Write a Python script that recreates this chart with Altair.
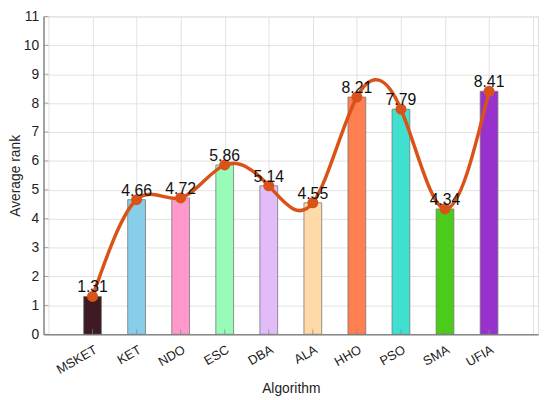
import altair as alt
import pandas as pd

names = ["MSKET", "KET", "NDO", "ESC", "DBA", "ALA", "HHO", "PSO", "SMA", "UFIA"]
values = [1.31, 4.66, 4.72, 5.86, 5.14, 4.55, 8.21, 7.79, 4.34, 8.41]
colors = ["#3e1a22", "#87ceeb", "#ff99cc", "#98fbb9", "#e2bcf8", "#ffdaa8",
          "#ff7f50", "#40e0d0", "#4ccc1a", "#9932cc"]
y_ticks = list(range(0, 12))
x_ticks = list(range(0, 12))

df = pd.DataFrame({"idx": list(range(1, len(names) + 1)), "name": names, "value": values,
                   "label": [f"{v:.2f}" for v in values]})
yt = pd.DataFrame({"y": y_ticks})
xt = pd.DataFrame({"x": list(range(1, len(names) + 1))})

arr = "[" + ",".join(f"'{n}'" for n in names) + "]"
label_expr = f"datum.value >= 1 && datum.value <= {len(names)} ? {arr}[datum.value - 1] : ''"

FONT = "Liberation Sans"
H = 322

xscale = alt.Scale(domain=[0, 11], nice=False, zero=False)
yscale = alt.Scale(domain=[0, 11], nice=False)

x_axis = alt.Axis(title="Algorithm", values=x_ticks, labelExpr=label_expr,
                  labelAngle=330, labelAlign="right", labelBaseline="top",
                  labelFontSize=13, titleFontSize=14, labelColor="#222",
                  titleColor="#222", ticks=False, labelPadding=9,
                  labelOverlap=False, titleFontWeight="normal",
                  domainColor="#888", domainWidth=1.5, gridColor="#e2e2e2",
                  titlePadding=5, labelFont=FONT, titleFont=FONT)
y_axis = alt.Axis(title="Average rank", values=y_ticks, labelFontSize=14,
                  titleFontSize=14, labelColor="#222", titleColor="#222",
                  ticks=False, labelPadding=5, domainColor="#888",
                  labelOverlap=False, titleFontWeight="normal",
                  domainWidth=1.5, gridColor="#e2e2e2", titlePadding=1,
                  labelFont=FONT, titleFont=FONT)

X = lambda f: alt.X(f, scale=xscale, axis=x_axis)
Y = lambda f: alt.Y(f, scale=yscale, axis=y_axis)

bars = alt.Chart(df).mark_bar(size=18, stroke="#777", strokeWidth=0.8).encode(
    x=X("idx:Q"), y=Y("value:Q"),
    color=alt.Color("name:N", scale=alt.Scale(domain=names, range=colors), legend=None),
)

line = alt.Chart(df).mark_line(color="#D95319", strokeWidth=3.5, interpolate="natural").encode(
    x=X("idx:Q"), y=Y("value:Q"))

pts = alt.Chart(df).mark_point(filled=True, color="#D95319", size=125, opacity=1).encode(
    x=X("idx:Q"), y=Y("value:Q"))

txt = alt.Chart(df).mark_text(fontSize=16, font=FONT, color="#111", baseline="bottom",
                              dy=-1).encode(x=X("idx:Q"), y=Y("value:Q"), text="label:N")

yticks = alt.Chart(yt).mark_tick(orient="horizontal", size=5, thickness=1, color="#888",
                                 xOffset=2.5).encode(
    x=alt.value(0), y=Y("y:Q"))
xticks = alt.Chart(xt).mark_tick(orient="vertical", size=5, thickness=1, color="#888",
                                 yOffset=-2.5).encode(
    x=X("x:Q"), y=alt.value(H))

chart = alt.layer(bars, line, pts, txt, yticks, xticks).properties(
    width=501, height=H,
    autosize=alt.AutoSizeParams(type="none"),
    padding={"left": 36, "top": 6, "right": 4, "bottom": 64},
).configure_view(stroke=None).configure(background="white")

chart.save("out.html", embed_options={"renderer": "svg", "actions": False})
